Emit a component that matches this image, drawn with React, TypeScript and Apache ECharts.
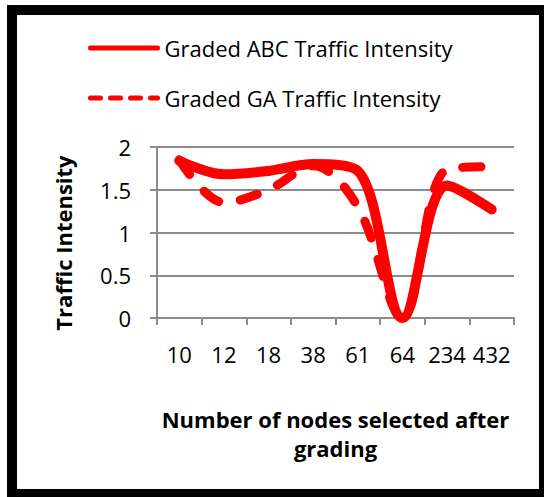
import React, { useEffect, useRef } from "react";
import * as echarts from "echarts";

const categories = ["10", "12", "18", "38", "61", "64", "234", "432"];
const abcValues = [1.84, 1.68, 1.72, 1.8, 1.72, 0, 1.55, 1.27];
const gaValues = [1.85, 1.35, 1.5, 1.78, 1.3, 0, 1.74, 1.77];
const seriesNames = ["Graded ABC Traffic Intensity", "Graded GA Traffic Intensity"];
const xTitle = "Number of nodes selected after\ngrading";
const yTitle = "Traffic Intensity";

const FONT = "Open Sans";
const RED = "#FF0000";
const GRAY = "#8c8c8c";
const FS = 22;

export default function App() {
  const ref = useRef<HTMLDivElement>(null);
  useEffect(() => {
    if (!ref.current) return;
    const chart = echarts.init(ref.current, undefined, { renderer: "svg" });
    const hiddenSymbol = { color: "rgba(0,0,0,0)", borderWidth: 0, opacity: 0 };
    chart.setOption({
      animation: false,
      backgroundColor: "#ffffff",
      textStyle: { fontFamily: FONT },
      graphic: [
        {
          type: "rect",
          shape: { x: 12, y: 10, width: 532, height: 484 },
          style: { fill: "none", stroke: "#000", lineWidth: 10 },
          z: 100,
        },
        {
          type: "text",
          x: 63,
          y: 243,
          rotation: Math.PI / 2,
          style: {
            text: yTitle,
            fontFamily: FONT,
            fontWeight: "bold",
            fontSize: FS,
            fill: "#000",
            align: "center",
            verticalAlign: "middle",
          },
        },
      ],
      legend: {
        orient: "vertical",
        left: 88,
        top: 36,
        padding: 0,
        itemWidth: 67,
        itemHeight: 14,
        itemGap: 26,
        textStyle: { fontFamily: FONT, fontSize: FS, color: "#000", lineHeight: 24, padding: [0, 0, 0, 2] },
        data: [
          {
            name: seriesNames[0],
            itemStyle: hiddenSymbol,
            lineStyle: { width: 5, type: "solid", cap: "round" },
          },
          {
            name: seriesNames[1],
            itemStyle: hiddenSymbol,
            lineStyle: { width: 5, type: [10, 10], cap: "round" },
          },
        ],
      },
      grid: { left: 157, right: 30, top: 147, bottom: 179 },
      xAxis: {
        type: "category",
        data: categories,
        boundaryGap: true,
        axisLine: { lineStyle: { color: GRAY, width: 2 } },
        axisTick: { show: true, interval: 0, length: 7, lineStyle: { color: GRAY, width: 2 } },
        axisLabel: { interval: 0, margin: 25, fontFamily: FONT, fontSize: FS, color: "#000" },
        name: xTitle,
        nameLocation: "middle",
        nameGap: 86,
        nameTextStyle: { fontFamily: FONT, fontWeight: "bold", fontSize: FS, color: "#000", lineHeight: 29 },
      },
      yAxis: {
        type: "value",
        min: 0,
        max: 2,
        interval: 0.5,
        axisLine: { show: true, lineStyle: { color: GRAY, width: 2 } },
        axisTick: { show: true, length: 7, lineStyle: { color: GRAY, width: 2 } },
        axisLabel: { margin: 26, fontFamily: FONT, fontSize: FS, color: "#000" },
        splitLine: { show: true, lineStyle: { color: GRAY, width: 2 } },
      },
      series: [
        {
          name: seriesNames[0],
          type: "line",
          data: abcValues,
          smooth: 0.35,
          symbol: "none",
          lineStyle: { color: RED, width: 10, cap: "round", join: "round" },
          itemStyle: { color: RED },
        },
        {
          name: seriesNames[1],
          type: "line",
          data: gaValues,
          smooth: 0.35,
          symbol: "none",
          lineStyle: { color: RED, width: 9, type: [18, 22], cap: "round", join: "round" },
          itemStyle: { color: RED },
        },
      ],
    });
    return () => chart.dispose();
  }, []);
  return (
    <div
      ref={ref}
      style={{ position: "absolute", left: 0, top: 0, width: 544, height: 497 }}
    />
  );
}
